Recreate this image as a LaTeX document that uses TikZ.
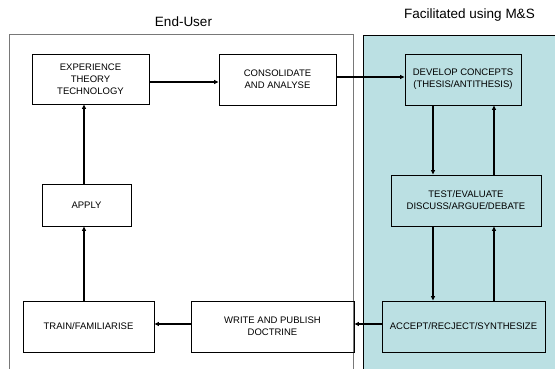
\documentclass[tikz,border=0pt]{standalone}
\usepackage{fontspec}
\setmainfont{Liberation Sans}
\usetikzlibrary{arrows.meta}
\definecolor{panelteal}{RGB}{187,224,227}
\definecolor{framegray}{RGB}{120,120,120}
\tikzset{
  box/.style={draw=black, line width=0.9pt, inner sep=0pt, align=center,
    font=\fontsize{9.5}{11.8}\selectfont},
  arr/.style={line width=1.2pt, -{Triangle[length=4.5pt,width=4pt]}},
  title/.style={font=\fontsize{13.5}{16}\selectfont, inner sep=0pt}
}
\begin{document}
\begin{tikzpicture}[x=1pt,y=-1pt]
\useasboundingbox (0,0) rectangle (555,369);
% panels
\fill[white] (0,0) rectangle (555,369);
\fill[panelteal] (363,35) rectangle (560,375);
\draw[black, line width=0.9pt] (363,375) -- (363,35) -- (560,35);
\draw[framegray, line width=1pt] (9,375) -- (9,35) -- (353,35) -- (353,375);
% titles
\node[title] (t1) at (183.5,21.5) {End-User};
\node[title] (t2) at (469.5,15.5) {Facilitated using M\&S};
% boxes
\node[box, minimum width=117pt, minimum height=50pt] (exp) at (90.5,79) {EXPERIENCE\\THEORY\\TECHNOLOGY};
\node[box, minimum width=117pt, minimum height=51pt] (cons) at (277.5,79.5) {CONSOLIDATE\\AND ANALYSE};
\node[box, minimum width=116pt, minimum height=51pt] (dev) at (463,79.5) {DEVELOP CONCEPTS\\(THESIS/ANTITHESIS)};
\node[box, minimum width=89pt, minimum height=42pt] (apply) at (86.5,205) {APPLY};
\node[box, minimum width=150pt, minimum height=51pt] (test) at (466,200.5) {TEST/EVALUATE\\DISCUSS/ARGUE/DEBATE};
\node[box, minimum width=131pt, minimum height=51pt] (train) at (88.5,326.5) {TRAIN/FAMILIARISE};
\node[box, minimum width=163pt, minimum height=51pt] (write) at (272.5,326.5) {WRITE AND PUBLISH\\DOCTRINE};
\node[box, minimum width=163pt, minimum height=51pt] (accept) at (463.5,326.5) {ACCEPT/RECJECT/SYNTHESIZE};
% guide coordinates
\coordinate (lx) at (84,0);
\coordinate (dnx) at (433,0);
\coordinate (upx) at (494,0);
\coordinate (y1) at (0,82);
\coordinate (y2) at (0,77);
\coordinate (y3) at (0,324);
% connectors
\draw[arr] (apply.north -| lx) -- (exp.south -| lx);
\draw[arr] (train.north -| lx) -- (apply.south -| lx);
\draw[arr] (exp.east |- y1) -- (cons.west |- y1);
\draw[arr] (cons.east |- y2) -- (dev.west |- y2);
\draw[arr] (dev.south -| dnx) -- (test.north -| dnx);
\draw[arr] (test.north -| upx) -- (dev.south -| upx);
\draw[arr] (test.south -| dnx) -- (accept.north -| dnx);
\draw[arr] (accept.north -| upx) -- (test.south -| upx);
\draw[arr] (accept.west |- y3) -- (write.east |- y3);
\draw[arr] (write.west |- y3) -- (train.east |- y3);
\end{tikzpicture}
\end{document}
